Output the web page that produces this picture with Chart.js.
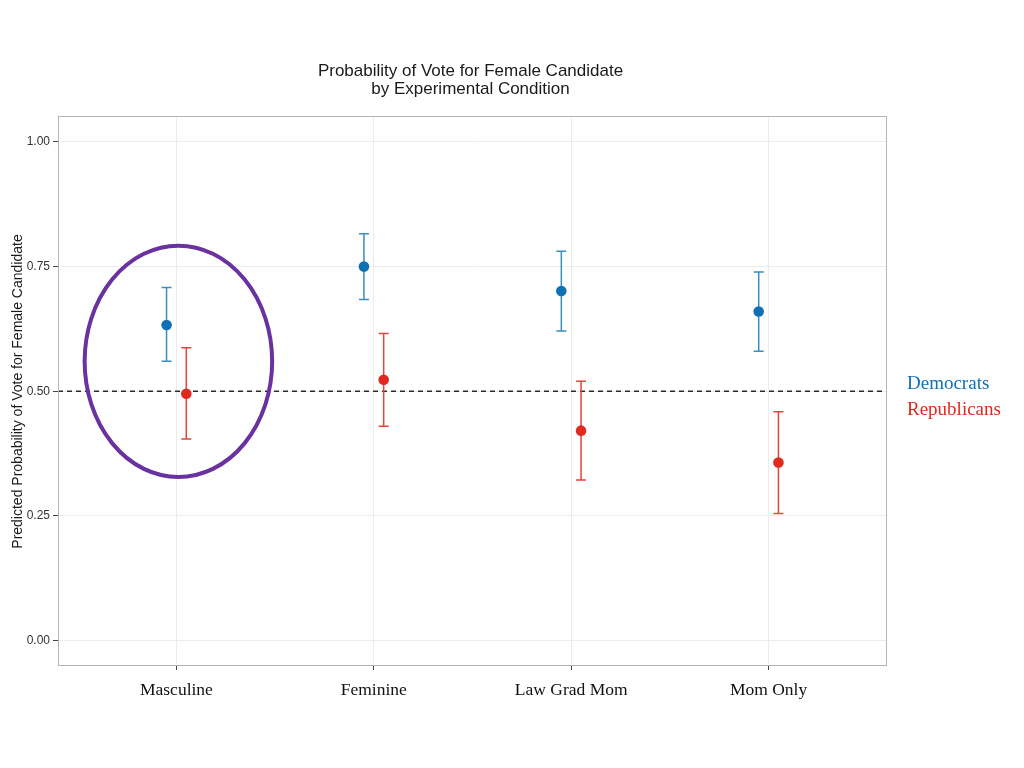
<!DOCTYPE html>
<html>
<head>
<meta charset="utf-8">
<script src="https://cdn.jsdelivr.net/npm/chart.js@4"></script>
<style>
  html, body { margin: 0; padding: 0; background: #fff; }
  #wrap { width: 1024px; height: 768px; }
</style>
</head>
<body>
<div id="wrap"><canvas id="chart" width="1024" height="768"></canvas></div>
<script>
// data
const categories = ["Masculine", "Feminine", "Law Grad Mom", "Mom Only"];
const demMean = [0.633, 0.750, 0.701, 0.660];
const demLow  = [0.560, 0.684, 0.621, 0.580];
const demHigh = [0.708, 0.816, 0.781, 0.739];
const repMean = [0.495, 0.523, 0.421, 0.357];
const repLow  = [0.404, 0.430, 0.322, 0.255];
const repHigh = [0.587, 0.616, 0.520, 0.459];
const yTicks = [0, 0.25, 0.5, 0.75, 1];
const refLine = 0.5;
const groupNames = ["Democrats", "Republicans"];
// circled group (data units)
const circleCenter = [1.01, 0.56];
const circleRadius = [0.475, 0.232];

const dodge = 0.05;
const demColor = "#1170b4";
const demBar = "#3a8dc0";
const repColor = "#e0291f";
const repBar = "#e2453c";

function points(means, off) {
    return means.map((m, i) => ({ x: i + 1 + off, y: m }));
}

const extras = {
    id: "extras",
    beforeDatasetsDraw(chart) {
        const ctx = chart.ctx;
        const a = chart.chartArea;
        const xs = chart.scales.x;
        const ys = chart.scales.y;

        // reference line
        ctx.save();
        ctx.strokeStyle = "#2b2b2b";
        ctx.lineWidth = 1.5;
        ctx.setLineDash([5, 4]);
        const yr = ys.getPixelForValue(refLine);
        ctx.beginPath();
        ctx.moveTo(a.left, yr);
        ctx.lineTo(a.right, yr);
        ctx.stroke();
        ctx.restore();

        // error bars
        const groups = [
            [demLow, demHigh, -dodge, demBar],
            [repLow, repHigh, dodge, repBar]
        ];
        ctx.save();
        ctx.lineWidth = 1.5;
        groups.forEach(([lo, hi, off, col]) => {
            ctx.strokeStyle = col;
            lo.forEach((l, i) => {
                const px = xs.getPixelForValue(i + 1 + off);
                const y1 = ys.getPixelForValue(l);
                const y2 = ys.getPixelForValue(hi[i]);
                ctx.beginPath();
                ctx.moveTo(px, y1); ctx.lineTo(px, y2);
                ctx.moveTo(px - 5, y1); ctx.lineTo(px + 5, y1);
                ctx.moveTo(px - 5, y2); ctx.lineTo(px + 5, y2);
                ctx.stroke();
            });
        });
        ctx.restore();
    },
    afterDatasetsDraw(chart) {
        const ctx = chart.ctx;
        const xs = chart.scales.x;
        const ys = chart.scales.y;
        const cx = xs.getPixelForValue(circleCenter[0]);
        const cy = ys.getPixelForValue(circleCenter[1]);
        const rx = Math.abs(xs.getPixelForValue(circleCenter[0] + circleRadius[0]) - cx);
        const ry = Math.abs(ys.getPixelForValue(circleCenter[1] + circleRadius[1]) - cy);
        ctx.save();
        ctx.strokeStyle = "#6a31a0";
        ctx.lineWidth = 4;
        ctx.beginPath();
        ctx.ellipse(cx, cy, rx, ry, 0, 0, Math.PI * 2);
        ctx.stroke();
        ctx.restore();
    },
    afterDraw(chart) {
        const ctx = chart.ctx;
        const a = chart.chartArea;
        ctx.save();
        // panel border
        ctx.strokeStyle = "#b5b5b5";
        ctx.lineWidth = 1;
        ctx.strokeRect(a.left + 0.5, a.top + 0.5, a.right - a.left - 1, a.bottom - a.top);

        // title
        ctx.fillStyle = "#1a1a1a";
        ctx.font = "17px 'Liberation Sans', Arial, sans-serif";
        ctx.textAlign = "center";
        ctx.textBaseline = "middle";
        const mid = (a.left + a.right) / 2 - 2;
        ctx.fillText("Probability of Vote for Female Candidate", mid, 71);
        ctx.fillText("by Experimental Condition", mid, 89);

        // y axis title
        ctx.save();
        ctx.translate(18, (a.top + a.bottom) / 2 + 1);
        ctx.rotate(-Math.PI / 2);
        ctx.font = "14px 'Liberation Sans', Arial, sans-serif";
        ctx.fillText("Predicted Probability of Vote for Female Candidate", 0, 0);
        ctx.restore();

        // group labels on the right
        ctx.font = "19px 'Liberation Serif', 'Times New Roman', serif";
        ctx.textAlign = "left";
        ctx.fillStyle = demColor;
        ctx.fillText(groupNames[0], a.right + 20, 384);
        ctx.fillStyle = repColor;
        ctx.fillText(groupNames[1], a.right + 20, 410);
        ctx.restore();
    }
};

new Chart(document.getElementById("chart"), {
    type: "scatter",
    data: {
        datasets: [
            {
                label: groupNames[0],
                data: points(demMean, -dodge),
                backgroundColor: demColor,
                borderWidth: 0,
                pointRadius: 5.3
            },
            {
                label: groupNames[1],
                data: points(repMean, dodge),
                backgroundColor: repColor,
                borderWidth: 0,
                pointRadius: 5.3
            }
        ]
    },
    options: {
        responsive: false,
        animation: false,
        layout: { padding: { top: 116, right: 137, bottom: 50, left: 0 } },
        plugins: {
            legend: { display: false },
            tooltip: { enabled: false }
        },
        scales: {
            x: {
                type: "linear",
                min: 0.4,
                max: 4.6,
                afterBuildTicks: s => { s.ticks = categories.map((c, i) => ({ value: i + 1 })); },
                afterFit: s => { s.height = 53; },
                border: { display: false },
                grid: { color: "#ececec", tickColor: "#444", tickLength: 5, lineWidth: 1 },
                ticks: {
                    callback: v => categories[v - 1],
                    color: "#111",
                    padding: 10,
                    maxRotation: 0,
                    font: { family: "'Liberation Serif', 'Times New Roman', serif", size: 17.5 }
                }
            },
            y: {
                min: -0.049,
                max: 1.052,
                afterBuildTicks: s => { s.ticks = yTicks.map(v => ({ value: v })); },
                afterFit: s => { s.width = 58; },
                border: { display: false },
                grid: { color: "#ececec", tickColor: "#444", tickLength: 5, lineWidth: 1 },
                ticks: {
                    callback: v => v.toFixed(2),
                    color: "#333",
                    padding: 3,
                    font: { family: "'Liberation Sans', Arial, sans-serif", size: 12 }
                }
            }
        }
    },
    plugins: [extras]
});
</script>
</body>
</html>
